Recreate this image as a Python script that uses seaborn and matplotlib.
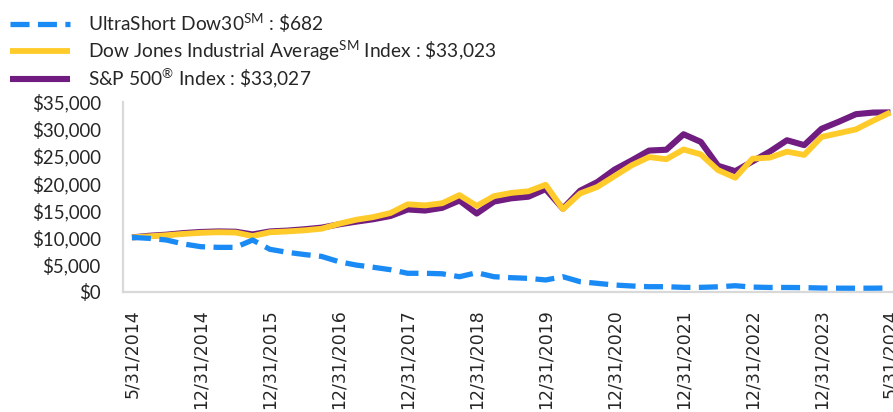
import numpy as np
import matplotlib
matplotlib.use("Agg")
import matplotlib.pyplot as plt
import seaborn as sns

# Growth of $10,000, one value per period (5/31/2014 .. 5/31/2024)
ultrashort = [10000, 9830, 9520, 8790, 8290, 8170, 8170, 9520, 7810, 7260,
              6850, 6500, 5530, 4910, 4500, 4050, 3390, 3390, 3300, 2760,
              3500, 2760, 2580, 2460, 2160, 2760, 1840, 1540, 1230, 1050,
              920, 920, 800, 800, 900, 1100, 850, 780, 780, 750,
              680, 650, 640, 650, 682]
djia = [10000, 10200, 10400, 10650, 10850, 10950, 10900, 10250, 10950, 11100,
        11300, 11600, 12500, 13250, 13750, 14500, 16100, 15900, 16300, 17800,
        15800, 17600, 18200, 18500, 19700, 15200, 18100, 19300, 21300, 23300,
        24800, 24400, 26200, 25300, 22400, 21000, 24500, 24700, 25800, 25200,
        28500, 29200, 29900, 31500, 33023]
sp500 = [10000, 10300, 10500, 10800, 11000, 11100, 11050, 10550, 11100, 11250,
         11500, 11800, 12400, 12900, 13350, 13950, 15150, 14950, 15450, 16800,
         14400, 16600, 17200, 17500, 18900, 15300, 18600, 20200, 22500, 24200,
         26000, 26150, 29000, 27600, 23200, 22200, 24000, 25800, 27900, 27000,
         30000, 31300, 32700, 33000, 33027]

tick_pos = [0, 4, 8, 12, 16, 20, 24, 28, 32, 36, 40, 44]
tick_labels = ["5/31/2014", "12/31/2014", "12/31/2015", "12/31/2016",
               "12/31/2017", "12/31/2018", "12/31/2019", "12/31/2020",
               "12/31/2021", "12/31/2022", "12/31/2023", "5/31/2024"]
y_ticks = [0, 5000, 10000, 15000, 20000, 25000, 30000, 35000]
y_labels = ["$0", "$5,000", "$10,000", "$15,000", "$20,000", "$25,000",
            "$30,000", "$35,000"]

labels = [r"UltraShort Dow30$^{\mathrm{SM}}$ : \$682",
          r"Dow Jones Industrial Average$^{\mathrm{SM}}$ Index : \$33,023",
          r"S&P 500$^{\circledR}$ Index : \$33,027"]

sns.set_style("white")
plt.rcParams["font.family"] = ["Lato", "DejaVu Sans"]
plt.rcParams["mathtext.fontset"] = "custom"
plt.rcParams["mathtext.rm"] = "Lato"
plt.rcParams["mathtext.it"] = "Lato:italic"
plt.rcParams["mathtext.bf"] = "Lato:bold"

fig = plt.figure(figsize=(8.93, 4.12), dpi=100)
ax = fig.add_axes([123 / 893, (412 - 291.7) / 412, 776 / 893, 190 / 412])

period = np.arange(len(ultrashort))
# draw order: purple at the bottom, blue on top
sns.lineplot(x=period, y=sp500, color="#701C80", lw=4.4, label=labels[2], ax=ax, zorder=2)
sns.lineplot(x=period, y=djia, color="#FFCB2B", lw=4.2, label=labels[1], ax=ax, zorder=3)
sns.lineplot(x=period, y=ultrashort, color="#1A8AF5", lw=3.8, label=labels[0], ax=ax, zorder=4)
ax.lines[2].set_dashes((3.6, 1.6))
for ln in ax.lines:
    ln.set_solid_capstyle("butt")

ax.set_xlim(-0.52, 44.5)
ax.set_ylim(0, 35000)
ax.set_xticks(tick_pos, tick_labels, rotation=90, fontfamily="DejaVu Sans", fontsize=12.5)
ax.set_yticks(y_ticks, y_labels, fontsize=13.4)
ax.tick_params(axis="x", length=0, pad=12.5, colors="#262626")
ax.tick_params(axis="y", length=0, pad=16, colors="#262626")
ax.set_xlabel("")
ax.set_ylabel("")
for side in ["top", "right"]:
    ax.spines[side].set_visible(False)
for side in ["left", "bottom"]:
    ax.spines[side].set_color("#d9d9d9")
    ax.spines[side].set_linewidth(1.6)

handles, labs = ax.get_legend_handles_labels()
ax.get_legend().remove()
fig.legend(handles[::-1], labs[::-1], loc="upper left",
           bbox_to_anchor=(10 / 893, 1 - 12 / 412), frameon=False,
           fontsize=13.8, handlelength=3.15, handletextpad=0.9,
           labelspacing=0.18, borderpad=0, borderaxespad=0,
           labelcolor="#262626")

fig.savefig("out.png", dpi=100)
